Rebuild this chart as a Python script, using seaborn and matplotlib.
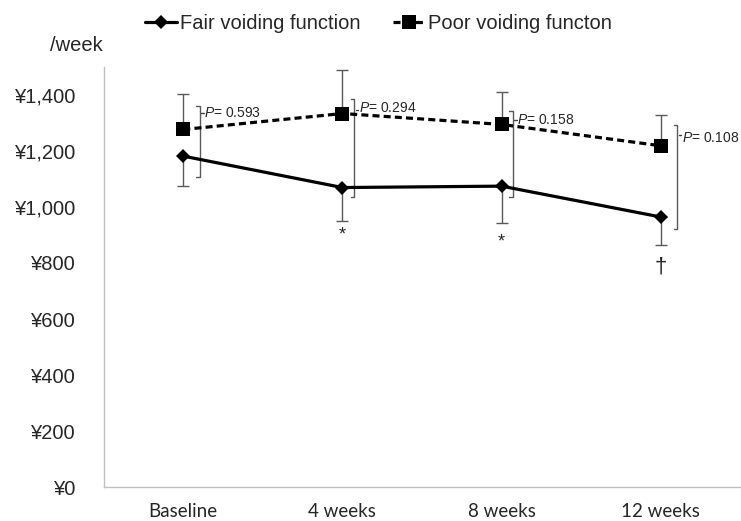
import matplotlib
matplotlib.use('Agg')
import matplotlib.pyplot as plt
from matplotlib.lines import Line2D
import numpy as np
import pandas as pd
import seaborn as sns

# values (yen per week)
weeks = ["Baseline", "4 weeks", "8 weeks", "12 weeks"]
fair_cost = [1181, 1069, 1074, 964]
fair_err = [106, 119, 130, 101]   # drawn downwards only
poor_cost = [1276, 1333, 1294, 1218]
poor_err = [126, 155, 115, 109]   # drawn upwards only
groups = ["Fair voiding function", "Poor voiding functon"]

# P-value brackets between groups
p_values = ["0.593", "0.294", "0.158", "0.108"]
bracket_top = [1361, 1384, 1342, 1292]
bracket_bottom = [1105, 1036, 1036, 920]
bracket_tick = [1336, 1347, 1311, 1257]
p_text_y = [1336, 1352, 1311, 1245]
# significance marks under the fair group
sig_marks = ["", "*", "*", "\u2020"]
sig_y = [0, 900, 875, 785]

sns.set_style("white")
plt.rcParams['font.family'] = ['Liberation Sans', 'DejaVu Sans']
plt.rcParams['mathtext.fontset'] = 'custom'
plt.rcParams['mathtext.it'] = 'Liberation Sans:italic'
plt.rcParams['mathtext.rm'] = 'Liberation Sans'

df = pd.DataFrame({
    "time": weeks * 2,
    "cost": fair_cost + poor_cost,
    "group": [groups[0]] * 4 + [groups[1]] * 4,
})

fig = plt.figure(figsize=(7.41, 5.21), dpi=100)
ax = fig.add_axes([0.14, 0.0647, 0.859, 0.8073])

x = np.arange(len(weeks))
zeros = [0] * len(weeks)
# error bars first so the lines sit on top
ax.errorbar(x, fair_cost, yerr=[fair_err, zeros], fmt='none', ecolor='#595959',
            elinewidth=1.0, capsize=4, capthick=1.0, zorder=1)
ax.errorbar(x, poor_cost, yerr=[zeros, poor_err], fmt='none', ecolor='#595959',
            elinewidth=1.0, capsize=4, capthick=1.0, zorder=1)

sns.lineplot(data=df, x="time", y="cost", hue="group", style="group",
             palette={groups[0]: "black", groups[1]: "black"},
             markers={groups[0]: "D", groups[1]: "s"},
             dashes={groups[0]: "", groups[1]: (2.2, 1.3)},
             markersize=8, linewidth=2.3, ax=ax, legend=False, zorder=3)
for ln, ms in zip(ax.lines[-2:], [7, 9.5]):
    ln.set_markersize(ms)
    ln.set_markeredgewidth(0)

# P-value brackets
offsets = [0.1025, 0.074, 0.069, 0.103]
for i in range(len(weeks)):
    bx = x[i] + offsets[i]
    ax.plot([bx - 0.02, bx, bx, bx - 0.02],
            [bracket_top[i], bracket_top[i], bracket_bottom[i], bracket_bottom[i]],
            color='#595959', lw=1.0, zorder=2)
    ax.plot([bx + 0.01, bx + 0.026], [bracket_tick[i]] * 2, color='#404040', lw=1.0)
    ax.text(bx + 0.03, p_text_y[i], r"$\it{P}$= " + p_values[i],
            fontsize=10, va='center', ha='left')
    if sig_marks[i]:
        ax.text(x[i], sig_y[i], sig_marks[i], ha='center', va='center',
                fontsize=13 if sig_marks[i] == "*" else 16)

ax.set_xlim(-0.5, 3.5)
ax.set_ylim(0, 1500)
ax.set_yticks(range(0, 1401, 200))
ax.set_yticklabels(["\u00a5{:,}".format(v) for v in range(0, 1401, 200)], fontsize=14.5)
ax.set_xticks(x)
ax.set_xticklabels(weeks, fontsize=13.5, family=['Lato', 'DejaVu Sans'])
ax.tick_params(axis='y', length=0, pad=20)
ax.tick_params(axis='x', length=0, pad=11)
ax.set_xlabel("")
ax.set_ylabel("")
for s in ['top', 'right']:
    ax.spines[s].set_visible(False)
for s in ['left', 'bottom']:
    ax.spines[s].set_color('#bfbfbf')
    ax.spines[s].set_linewidth(1.0)

fig.text(0.068, 0.912, "/week", fontsize=14.5, ha='left', va='center')

# legend in the Excel style along the top
handles = [Line2D([], [], color='black', lw=2.3, marker='D', markersize=7, markeredgewidth=0),
           Line2D([], [], color='black', lw=2.3, ls=(0, (2.2, 1.3)), marker='s',
                  markersize=9.5, markeredgewidth=0)]
fig.legend(handles, groups, loc='center', bbox_to_anchor=(0.511, 0.954), ncol=2,
           frameon=False, fontsize=14.5, handlelength=1.6, handletextpad=0.15,
           columnspacing=1.6)

fig.savefig("out.png", dpi=100)
